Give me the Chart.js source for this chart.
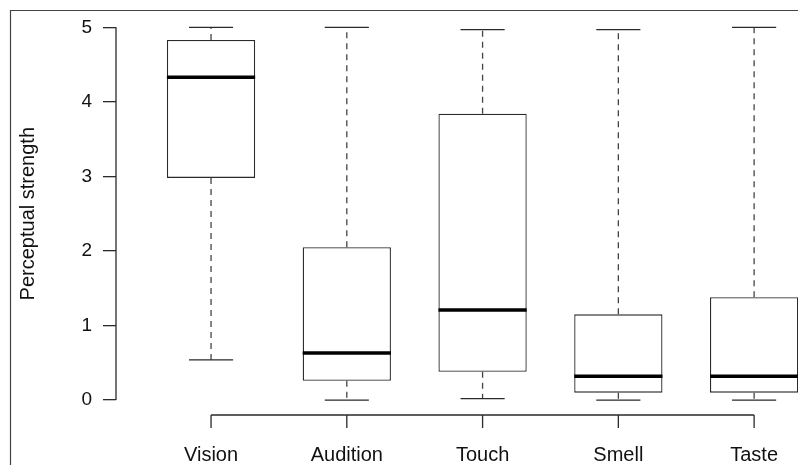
<!DOCTYPE html>
<html>
<head>
<meta charset="utf-8">
<script src="https://cdn.jsdelivr.net/npm/chart.js@4"></script>
<style>
  html, body { margin: 0; padding: 0; background: #fff; overflow: hidden; }
  .wrap { width: 860px; height: 465px; position: relative; }
</style>
</head>
<body>
<div class="wrap"><canvas id="boxChart"></canvas></div>
<script>
// ===============================
// Data
// ===============================
const senses = ["Vision", "Audition", "Touch", "Smell", "Taste"];
const positions = [1, 2, 3, 4, 5];
const whiskerLow  = [0.54, 0.00, 0.02, 0.00, 0.00];
const boxLow      = [2.98, 0.26, 0.38, 0.10, 0.10];
const medians     = [4.33, 0.63, 1.21, 0.32, 0.32];
const boxHigh     = [4.83, 2.05, 3.84, 1.15, 1.38];
const whiskerHigh = [5.00, 5.00, 4.97, 4.97, 5.00];
const yTicks = [0, 1, 2, 3, 4, 5];

const ink = "#2a2a2a";
const font = "'Liberation Sans', Arial, Helvetica, sans-serif";

// ===============================
// Boxplot extras: whiskers, medians, axis lines, frame
// ===============================
const boxExtras = {
    id: "boxExtras",
    afterDatasetsDraw(chart) {
        const ctx = chart.ctx;
        const x = chart.scales.x;
        const y = chart.scales.y;
        const bars = chart.getDatasetMeta(0).data;

        ctx.save();
        bars.forEach((bar, i) => {
            const cx = bar.x;
            const half = bar.width / 2;
            const cap = half / 2;

            // dashed whiskers
            ctx.strokeStyle = "#444";
            ctx.lineWidth = 1.3;
            ctx.setLineDash([6, 5]);
            ctx.beginPath();
            ctx.moveTo(cx, y.getPixelForValue(boxHigh[i]));
            ctx.lineTo(cx, y.getPixelForValue(whiskerHigh[i]));
            ctx.moveTo(cx, y.getPixelForValue(boxLow[i]));
            ctx.lineTo(cx, y.getPixelForValue(whiskerLow[i]));
            ctx.stroke();

            // caps
            ctx.setLineDash([]);
            ctx.strokeStyle = ink;
            ctx.beginPath();
            ctx.moveTo(cx - cap, y.getPixelForValue(whiskerHigh[i]));
            ctx.lineTo(cx + cap, y.getPixelForValue(whiskerHigh[i]));
            ctx.moveTo(cx - cap, y.getPixelForValue(whiskerLow[i]));
            ctx.lineTo(cx + cap, y.getPixelForValue(whiskerLow[i]));
            ctx.stroke();

            // median
            ctx.strokeStyle = "#000";
            ctx.lineWidth = 3.5;
            ctx.beginPath();
            ctx.moveTo(cx - half, y.getPixelForValue(medians[i]));
            ctx.lineTo(cx + half, y.getPixelForValue(medians[i]));
            ctx.stroke();
        });

        // R style axis lines and x tick marks
        ctx.strokeStyle = ink;
        ctx.lineWidth = 1.3;
        ctx.beginPath();
        ctx.moveTo(x.left, y.getPixelForValue(yTicks[0]));
        ctx.lineTo(x.left, y.getPixelForValue(yTicks[yTicks.length - 1]));
        ctx.moveTo(x.getPixelForValue(positions[0]), y.bottom);
        ctx.lineTo(x.getPixelForValue(positions[positions.length - 1]), y.bottom);
        positions.forEach(p => {
            ctx.moveTo(x.getPixelForValue(p), y.bottom);
            ctx.lineTo(x.getPixelForValue(p), y.bottom + 13);
        });
        ctx.stroke();

        // outer frame
        ctx.strokeStyle = "#444";
        ctx.lineWidth = 1.2;
        ctx.beginPath();
        ctx.moveTo(10.5, chart.height);
        ctx.lineTo(10.5, 10.5);
        ctx.lineTo(chart.width, 10.5);
        ctx.stroke();
        ctx.restore();
    }
};

new Chart(document.getElementById("boxChart"), {
    type: "bar",
    data: {
        datasets: [{
            label: "Perceptual strength",
            data: positions.map((p, i) => ({ x: p, y: [boxLow[i], boxHigh[i]] })),
            backgroundColor: "#fff",
            borderColor: ink,
            borderWidth: 1.3,
            borderSkipped: false,
            barPercentage: 0.65,
            categoryPercentage: 1
        }]
    },
    options: {
        responsive: true,
        maintainAspectRatio: false,
        animation: false,
        layout: { padding: { top: 12.4, right: 38, left: 0, bottom: 0 } },
        plugins: {
            legend: { display: false },
            tooltip: { enabled: false }
        },
        scales: {
            x: {
                type: "linear",
                min: 0.3,
                max: 5.5,
                offset: false,
                afterBuildTicks: scale => {
                    scale.ticks = positions.map(v => ({ value: v }));
                },
                afterFit: scale => {
                    scale.height = 50;
                    scale.paddingLeft = 0;
                    scale.paddingRight = 0;
                },
                ticks: {
                    color: "#111",
                    font: { family: font, size: 20 },
                    padding: 20,
                    maxRotation: 0,
                    autoSkip: false,
                    callback: v => senses[positions.indexOf(v)]
                },
                grid: { display: false },
                border: { display: false }
            },
            y: {
                min: -0.2,
                max: 5.2,
                afterBuildTicks: scale => {
                    scale.ticks = yTicks.map(v => ({ value: v }));
                },
                afterFit: scale => {
                    scale.width = 116;
                    scale.paddingTop = 0;
                    scale.paddingBottom = 0;
                },
                ticks: {
                    color: "#111",
                    font: { family: font, size: 19 },
                    padding: 11
                },
                grid: {
                    drawOnChartArea: false,
                    tickLength: 13,
                    color: ink,
                    lineWidth: 1.3
                },
                border: { display: false },
                title: {
                    display: true,
                    text: "Perceptual strength",
                    color: "#111",
                    font: { family: font, size: 20 },
                    padding: { top: 16, bottom: 0 }
                }
            }
        }
    },
    plugins: [boxExtras]
});
</script>
</body>
</html>
